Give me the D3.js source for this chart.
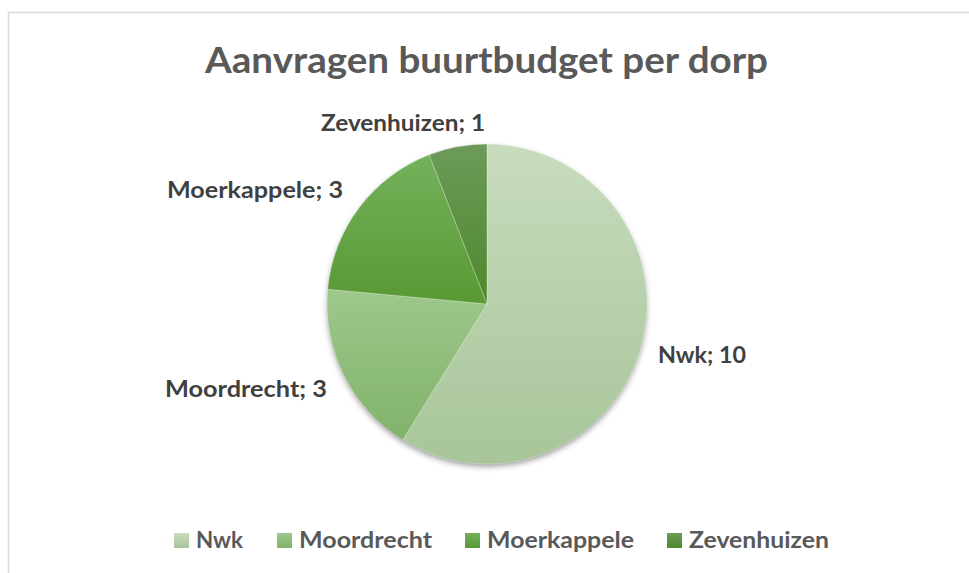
<!DOCTYPE html>
<html>
<head>
<meta charset="utf-8">
<script src="https://cdn.jsdelivr.net/npm/d3@7"></script>
<style>
  html, body { margin: 0; padding: 0; background: #fff; }
  svg { display: block; }
  text { font-family: Lato, "Open Sans", sans-serif; font-weight: bold; }
</style>
</head>
<body>
<div id="chart"></div>
<script>
// data
const dorpen = ['Nwk', 'Moordrecht', 'Moerkappele', 'Zevenhuizen'];
const aanvragen = [10, 3, 3, 1];
const kleurBoven = ['#c7dcbd', '#9ec88c', '#74b15c', '#6d9a59'];
const kleurOnder = ['#a8c59a', '#81b26a', '#599933', '#4c892c'];

(function(){
  const W = 969, H = 573;
  const cx = 487, cy = 304, r = 160;

  const svg = d3.select('#chart').append('svg')
    .attr('width', W).attr('height', H);

  const defs = svg.append('defs');
  dorpen.forEach((d, i) => {
    const g = defs.append('linearGradient')
      .attr('id', 'grad' + i)
      .attr('x1', 0).attr('y1', 0).attr('x2', 0).attr('y2', 1);
    g.append('stop').attr('offset', '0%').attr('stop-color', kleurBoven[i]);
    g.append('stop').attr('offset', '100%').attr('stop-color', kleurOnder[i]);
  });
  const f = defs.append('filter').attr('id', 'shadow')
    .attr('x', '-20%').attr('y', '-20%').attr('width', '140%').attr('height', '140%');
  f.append('feDropShadow').attr('dx', 0).attr('dy', 3).attr('stdDeviation', 3)
    .attr('flood-color', '#000').attr('flood-opacity', 0.45);

  // chart area border
  svg.append('rect')
    .attr('x', 8.5).attr('y', 12.5).attr('width', 1000).attr('height', 700)
    .attr('fill', '#fff').attr('stroke', '#d9d9d9').attr('stroke-width', 1.5);

  // title
  svg.append('text')
    .attr('x', 205).attr('y', 73)
    .attr('textLength', 563).attr('lengthAdjust', 'spacingAndGlyphs')
    .attr('font-size', 36).attr('fill', '#595959')
    .text('Aanvragen buurtbudget per dorp');

  const pie = d3.pie().sort(null).value(d => d);
  const arcs = pie(aanvragen);
  const arc = d3.arc().innerRadius(0).outerRadius(r);

  const g = svg.append('g').attr('transform', `translate(${cx},${cy})`);
  g.append('circle').attr('r', r - 1).attr('fill', '#a8c59a').attr('filter', 'url(#shadow)');
  g.selectAll('path.slice')
    .data(arcs)
    .enter().append('path')
      .attr('class', 'slice')
      .attr('d', arc)
      .attr('fill', (d, i) => `url(#grad${i})`)
      .attr('stroke', 'rgba(255,255,255,0.35)')
      .attr('stroke-width', 0.8);

  // data labels (position, text width as in reference)
  const labels = [
    {x: 658, y: 363, w: 88},
    {x: 165, y: 397, w: 162},
    {x: 167, y: 198, w: 176},
    {x: 321, y: 131, w: 164}
  ];
  svg.selectAll('text.lbl')
    .data(arcs)
    .enter().append('text')
      .attr('class', 'lbl')
      .attr('x', (d, i) => labels[i].x)
      .attr('y', (d, i) => labels[i].y)
      .attr('textLength', (d, i) => labels[i].w)
      .attr('lengthAdjust', 'spacingAndGlyphs')
      .attr('font-size', 23)
      .attr('fill', '#404040')
      .text((d, i) => dorpen[i] + '; ' + d.data);

  // legend
  const legendX = [174, 277, 465, 667];
  const legendW = [47, 133, 147, 140];
  const leg = svg.selectAll('g.legend')
    .data(dorpen)
    .enter().append('g')
      .attr('class', 'legend')
      .attr('transform', (d, i) => `translate(${legendX[i]},533)`);
  leg.append('rect')
    .attr('width', 15).attr('height', 15)
    .attr('fill', (d, i) => `url(#grad${i})`);
  leg.append('text')
    .attr('x', 22).attr('y', 15)
    .attr('textLength', (d, i) => legendW[i])
    .attr('lengthAdjust', 'spacingAndGlyphs')
    .attr('font-size', 22)
    .attr('fill', '#595959')
    .text(d => d);
})();
</script>
</body>
</html>
